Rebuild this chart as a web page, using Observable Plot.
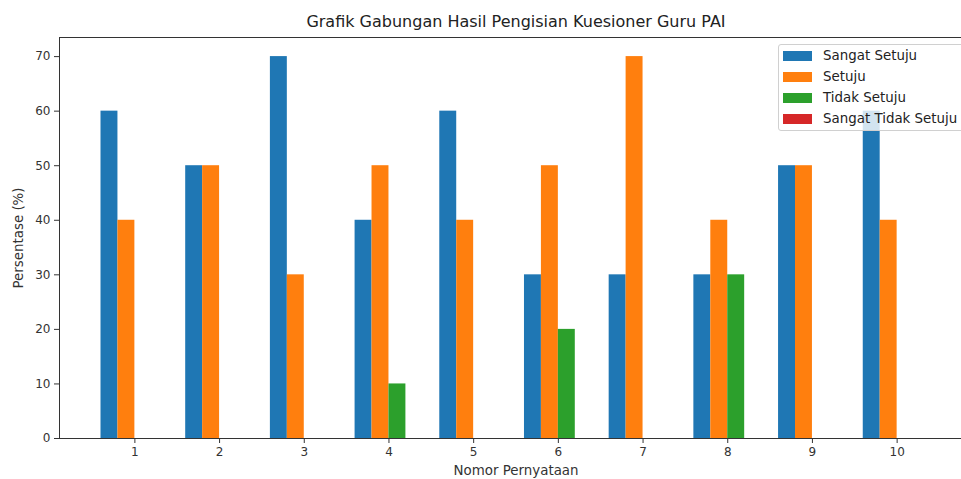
<!DOCTYPE html>
<html>
<head>
<meta charset="utf-8">
<script src="https://cdn.jsdelivr.net/npm/d3@7"></script>
<script src="https://cdn.jsdelivr.net/npm/@observablehq/plot@0.6"></script>
<style>
  html, body { margin: 0; padding: 0; background: #fff; }
  #wrap { position: relative; width: 961px; height: 479px; overflow: hidden; font-family: "DejaVu Sans", sans-serif; color: #222; }
  #title { position: absolute; top: 12px; left: 216px; width: 600px; text-align: center; font-size: 16px; line-height: 19px; white-space: nowrap; color: #222; }
  #chart { position: absolute; left: 0; top: 0; }
  #legend { position: absolute; left: 778px; top: 44px; width: 200px; height: 87px; border: 1px solid #d0d0d0; border-radius: 3px; background: rgba(255,255,255,0.8); box-sizing: border-box; }
  .row { position: absolute; left: 4px; height: 16px; font-size: 13.4px; line-height: 16px; white-space: nowrap; color: #222; }
  .sw { position: absolute; left: 0; top: 3px; width: 29px; height: 10px; }
  .lab { position: absolute; left: 40px; top: 0; }
</style>
</head>
<body>
<div id="wrap">
  <div id="title">Grafik Gabungan Hasil Pengisian Kuesioner Guru PAI</div>
  <div id="chart"></div>
  <div id="legend"></div>
</div>
<script>
const statements = [1, 2, 3, 4, 5, 6, 7, 8, 9, 10];
const seriesNames = ["Sangat Setuju", "Setuju", "Tidak Setuju", "Sangat Tidak Setuju"];
const seriesColors = ["#1f77b4", "#ff7f0e", "#2ca02c", "#d62728"];
const sangatSetuju = [60, 50, 70, 40, 60, 30, 30, 30, 50, 60];
const setuju = [40, 50, 30, 50, 40, 50, 70, 40, 50, 40];
const tidakSetuju = [0, 0, 0, 10, 0, 20, 0, 30, 0, 0];
const sangatTidakSetuju = [0, 0, 0, 0, 0, 0, 0, 0, 0, 0];
const yTicks = [0, 10, 20, 30, 40, 50, 60, 70];

const seriesValues = [sangatSetuju, setuju, tidakSetuju, sangatTidakSetuju];
const barW = 0.2;
const rows = [];
seriesValues.forEach((vals, i) => {
  vals.forEach((v, j) => {
    rows.push({ stmt: statements[j], series: seriesNames[i], idx: i, value: v });
  });
});

const xMin = 0.11, yMax = 73.5;
const chart = Plot.plot({
  width: 961,
  height: 479,
  marginTop: 37,
  marginBottom: 41,
  marginLeft: 59,
  marginRight: 0,
  style: { fontFamily: "DejaVu Sans, sans-serif", fontSize: "12px", color: "#333", background: "transparent" },
  x: { type: "linear", domain: [xMin, 10.76], range: [59, 961] },
  y: { domain: [0, yMax] },
  color: { domain: seriesNames, range: seriesColors },
  marks: [
    Plot.rectY(rows.filter(d => d.value > 0), {
      x1: d => d.stmt + (d.idx - 2) * barW,
      x2: d => d.stmt + (d.idx - 1) * barW,
      y1: 0,
      y2: "value",
      fill: "series",
      inset: 0
    }),
    Plot.ruleY([0, yMax], { stroke: "#333", strokeWidth: 1 }),
    Plot.ruleX([xMin], { stroke: "#333", strokeWidth: 1 }),
    Plot.axisY({ ticks: yTicks, tickSize: 5, tickPadding: 4, tickFormat: d => String(d), label: null, stroke: "#333", fill: "#333", fontSize: 12 }),
    Plot.axisX({ ticks: statements, tickSize: 5, tickPadding: 4, tickFormat: d => String(d), label: null, stroke: "#333", fill: "#333", fontSize: 12 }),
    Plot.text(["Persentase (%)"], { x: [xMin], y: [yMax / 2], dx: -41, rotate: -90, fontSize: 13.4, fill: "#333" }),
    Plot.text(["Nomor Pernyataan"], { x: [5.5], y: [0], dy: 32, fontSize: 13.4, fill: "#333" })
  ]
});
document.getElementById("chart").appendChild(chart);

const legend = document.getElementById("legend");
seriesNames.forEach((name, i) => {
  const r = document.createElement("div");
  r.className = "row";
  r.style.top = (3 + i * 21) + "px";
  r.innerHTML = `<span class="sw" style="background:${seriesColors[i]}"></span><span class="lab">${name}</span>`;
  legend.appendChild(r);
});
</script>
</body>
</html>
